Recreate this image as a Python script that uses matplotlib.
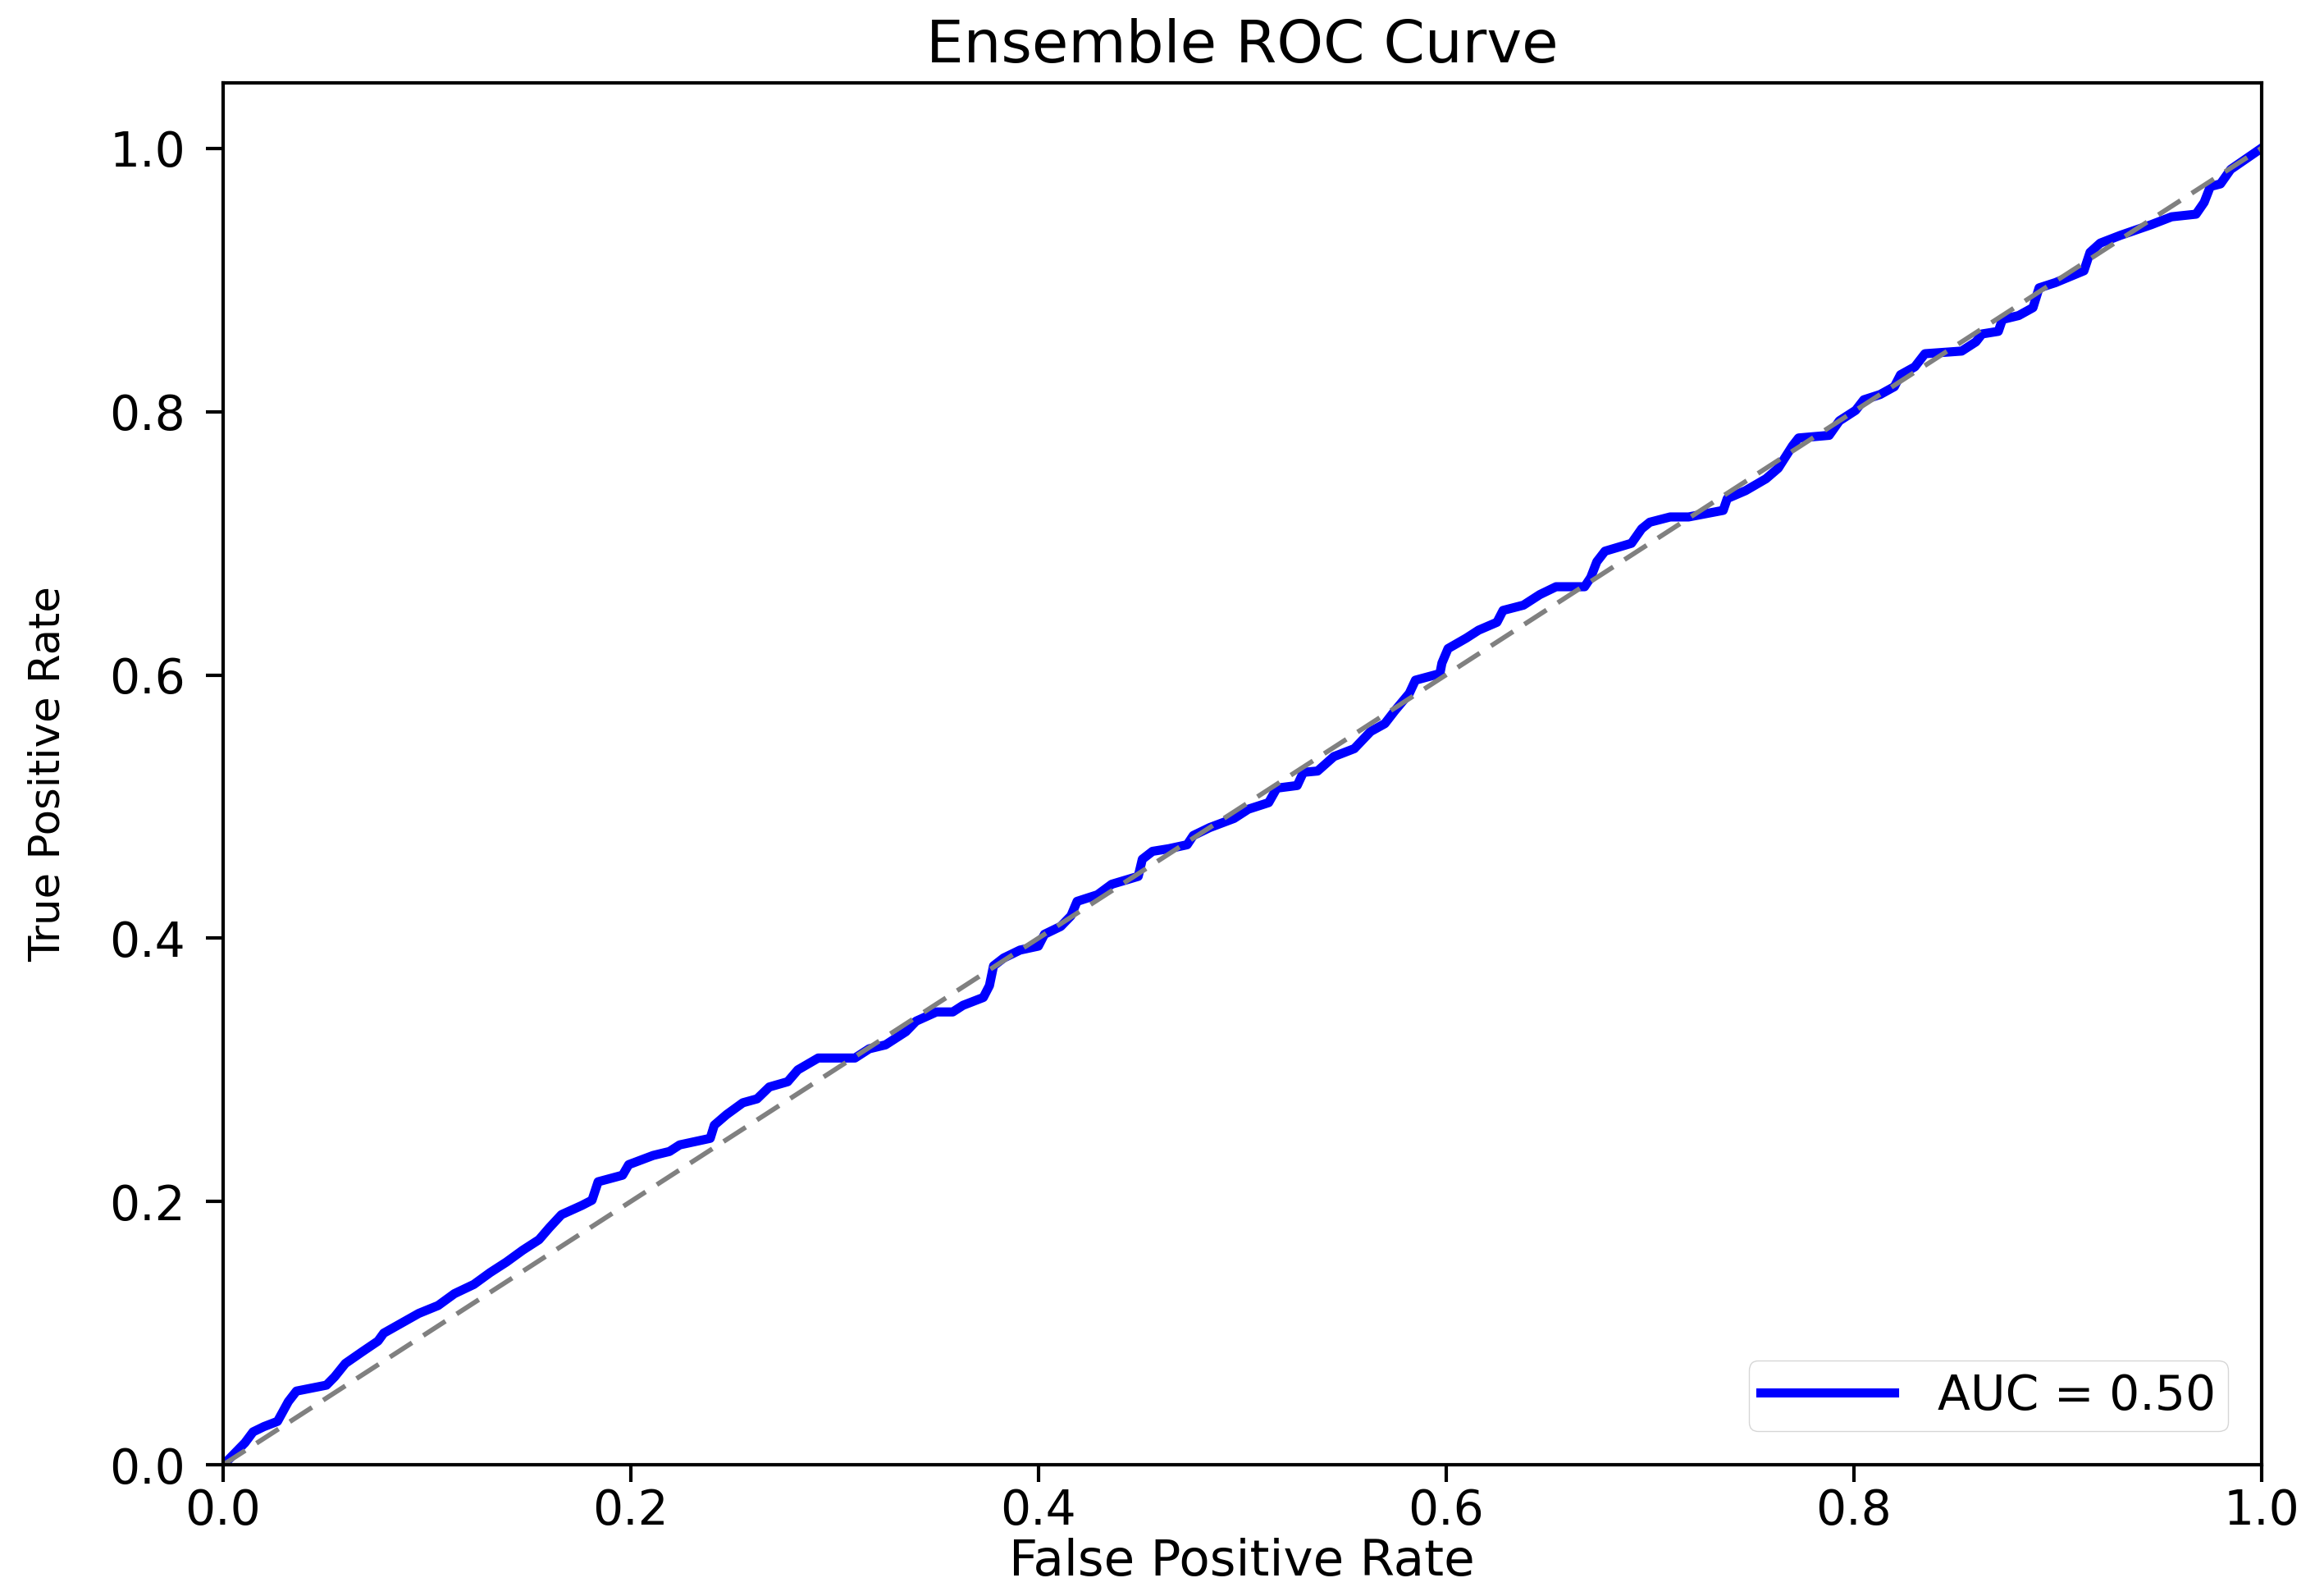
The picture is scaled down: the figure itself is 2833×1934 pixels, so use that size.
import matplotlib
matplotlib.use("Agg")
import matplotlib.pyplot as plt

# ROC points
fpr = [0.0, 0.0027, 0.0107, 0.0147, 0.020, 0.0267, 0.032, 0.036, 0.0507, 0.0547,
       0.060, 0.068, 0.076, 0.0788, 0.0868, 0.096, 0.1055, 0.1135, 0.123, 0.131,
       0.139, 0.147, 0.155, 0.160, 0.166, 0.176, 0.181, 0.184, 0.196, 0.199,
       0.211, 0.219, 0.224, 0.239, 0.241, 0.247,
       0.255, 0.262, 0.268, 0.277, 0.282, 0.292, 0.300, 0.310, 0.317, 0.325,
       0.335, 0.340, 0.350, 0.358, 0.363, 0.373, 0.376, 0.378, 0.383, 0.391,
       0.400, 0.403, 0.411, 0.416, 0.419, 0.429, 0.436, 0.449, 0.451, 0.456,
       0.464, 0.473, 0.476, 0.484, 0.496, 0.503, 0.513, 0.517, 0.527, 0.530,
       0.537, 0.545, 0.555, 0.563, 0.570, 0.575, 0.582, 0.585, 0.597, 0.598,
       0.601, 0.610, 0.616, 0.625, 0.628, 0.638, 0.646, 0.654, 0.668, 0.671,
       0.674, 0.678, 0.691, 0.696, 0.700, 0.710, 0.719, 0.736, 0.738, 0.747,
       0.757, 0.763, 0.770, 0.773, 0.788, 0.793, 0.801, 0.805, 0.813, 0.820,
       0.823, 0.830, 0.835, 0.853, 0.860, 0.863, 0.871, 0.873, 0.881, 0.888,
       0.891, 0.899, 0.913, 0.916, 0.921, 0.931, 0.946, 0.956, 0.968, 0.972,
       0.975, 0.980, 0.985, 1.0]
tpr = [0.0, 0.004, 0.0167, 0.025, 0.029, 0.033, 0.048, 0.056, 0.0605, 0.0668,
       0.077, 0.0856, 0.094, 0.100, 0.107, 0.115, 0.121, 0.130, 0.137, 0.146,
       0.154, 0.163, 0.171, 0.180, 0.190, 0.197, 0.201, 0.215, 0.220, 0.228,
       0.235, 0.238, 0.243, 0.248, 0.258, 0.266,
       0.275, 0.278, 0.287, 0.291, 0.300, 0.309, 0.309, 0.309, 0.316, 0.319,
       0.329, 0.337, 0.344, 0.344, 0.349, 0.355, 0.364, 0.379, 0.385, 0.391,
       0.394, 0.403, 0.409, 0.417, 0.428, 0.433, 0.441, 0.447, 0.460, 0.466,
       0.468, 0.471, 0.478, 0.484, 0.491, 0.498, 0.503, 0.514, 0.516, 0.526,
       0.527, 0.538, 0.544, 0.557, 0.563, 0.573, 0.586, 0.596, 0.601, 0.609,
       0.620, 0.628, 0.634, 0.640, 0.649, 0.653, 0.661, 0.667, 0.667, 0.674,
       0.686, 0.694, 0.700, 0.711, 0.716, 0.720, 0.720, 0.725, 0.734, 0.740,
       0.749, 0.757, 0.774, 0.780, 0.782, 0.793, 0.801, 0.809, 0.813, 0.819,
       0.828, 0.834, 0.844, 0.846, 0.853, 0.859, 0.861, 0.870, 0.873, 0.879,
       0.894, 0.898, 0.907, 0.921, 0.928, 0.934, 0.942, 0.948, 0.950, 0.959,
       0.971, 0.973, 0.984, 1.0]
auc_value = 0.50
ticks = [0.0, 0.2, 0.4, 0.6, 0.8, 1.0]

fig = plt.figure(figsize=(28.33, 19.34), dpi=100)
ax = fig.add_axes([0.096, 0.077, 0.877, 0.871])

ax.plot(fpr, tpr, color='blue', lw=8, label='AUC = {:.2f}'.format(auc_value))
ax.plot([0, 1], [0, 1], color='gray', lw=4.2, linestyle=(0, (5.5, 2.8)))

ax.set_xlim(0, 1)
ax.set_ylim(0, 1.05)
ax.set_xticks(ticks)
ax.set_yticks(ticks)
ax.set_xticklabels(['{:.1f}'.format(t) for t in ticks])
ax.set_yticklabels(['{:.1f}'.format(t) for t in ticks])
ax.tick_params(axis='both', labelsize=42, length=15, width=3)
ax.tick_params(axis='y', pad=18)
ax.tick_params(axis='x', pad=5)
for sp in ax.spines.values():
    sp.set_linewidth(3)

ax.set_xlabel('False Positive Rate', fontsize=44, labelpad=3)
ax.set_ylabel('True Positive Rate', fontsize=37, labelpad=36)
ax.set_title('Ensemble ROC Curve', fontsize=52, pad=18)

ax.legend(loc='lower right', fontsize=42, handlelength=2.8, handletextpad=0.9,
          borderpad=0.25, borderaxespad=0.7)

plt.savefig('out.png', dpi=100)
